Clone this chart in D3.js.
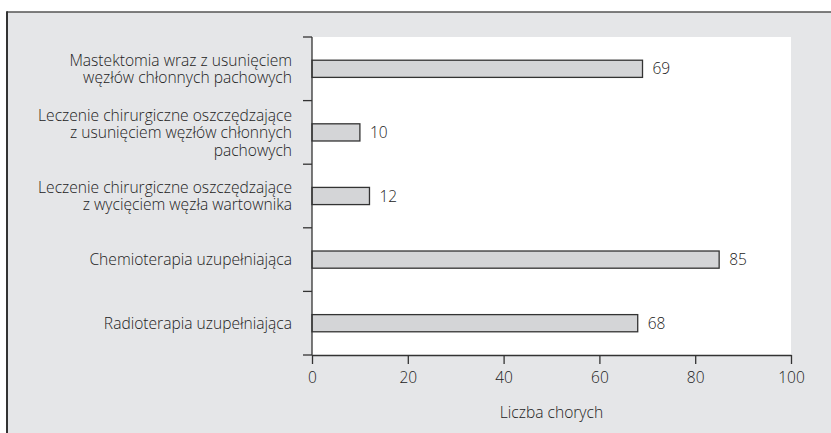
<!DOCTYPE html>
<html>
<head>
<meta charset="utf-8">
<script src="https://cdn.jsdelivr.net/npm/d3@7"></script>
<style>
  body { margin: 0; background: #fff; }
  text { font-family: "Open Sans", sans-serif; font-weight: 300; fill: #222; }
</style>
</head>
<body>
<div id="chart"></div>
<script>
var categories = [
    'Mastektomia wraz z usunięciem\nwęzłów chłonnych pachowych',
    'Leczenie chirurgiczne oszczędzające\nz usunięciem węzłów chłonnych\npachowych',
    'Leczenie chirurgiczne oszczędzające\nz wycięciem węzła wartownika',
    'Chemioterapia uzupełniająca',
    'Radioterapia uzupełniająca'
];
var values = [69, 10, 12, 85, 68];
var xTicks = [0, 20, 40, 60, 80, 100];
var xLabel = 'Liczba chorych';

var width = 831,
    height = 433,
    plotLeft = 312,
    plotRight = 791,
    plotTop = 37,
    plotBottom = 355;

var svg = d3.select('#chart').append('svg')
    .attr('width', width)
    .attr('height', height);

// panel background + frame
svg.append('rect')
    .attr('x', 7).attr('y', 12)
    .attr('width', width - 7).attr('height', height - 12)
    .attr('fill', '#e5e6e8');
svg.append('line')
    .attr('x1', 7).attr('x2', width).attr('y1', 12).attr('y2', 12)
    .attr('stroke', '#555').attr('stroke-width', 1.5);
svg.append('line')
    .attr('x1', 7).attr('x2', 7).attr('y1', 11.3).attr('y2', height)
    .attr('stroke', '#333').attr('stroke-width', 2);

var x = d3.scaleLinear().domain([0, 100]).range([plotLeft, plotRight]);
var y = d3.scaleBand().domain(categories).range([plotTop, plotBottom])
    .paddingInner(0.73).paddingOuter(0.365);

// plot area
svg.append('rect')
    .attr('x', plotLeft).attr('y', plotTop)
    .attr('width', plotRight - plotLeft).attr('height', plotBottom - plotTop)
    .attr('fill', '#fff');

// bars
svg.append('g')
    .selectAll('rect')
    .data(values)
    .enter()
    .append('rect')
    .attr('x', x(0))
    .attr('y', function(d, i) { return y(categories[i]); })
    .attr('width', function(d) { return x(d) - x(0); })
    .attr('height', y.bandwidth())
    .attr('fill', '#d4d5d7')
    .attr('stroke', '#333')
    .attr('stroke-width', 1.3);

// value labels
svg.append('g')
    .selectAll('text')
    .data(values)
    .enter()
    .append('text')
    .attr('x', function(d) { return x(d) + 10; })
    .attr('y', function(d, i) { return y(categories[i]) + y.bandwidth() / 2; })
    .attr('dy', '0.36em')
    .attr('font-size', 15.5)
    .text(function(d) { return d; });

// y axis with ticks at band boundaries
var yAxis = svg.append('g');
yAxis.append('line')
    .attr('x1', plotLeft).attr('x2', plotLeft).attr('y1', plotTop).attr('y2', plotBottom)
    .attr('stroke', '#333').attr('stroke-width', 1.3);
yAxis.selectAll('line.tick')
    .data(d3.range(categories.length + 1))
    .enter()
    .append('line')
    .attr('class', 'tick')
    .attr('x1', plotLeft - 9).attr('x2', plotLeft)
    .attr('y1', function(i) { return plotTop + i * y.step(); })
    .attr('y2', function(i) { return plotTop + i * y.step(); })
    .attr('stroke', '#333').attr('stroke-width', 1.3);

// category labels
var lineHeight = 17.5;
yAxis.selectAll('text')
    .data(categories)
    .enter()
    .append('text')
    .attr('text-anchor', 'end')
    .attr('font-size', 15.6)
    .each(function(d) {
        var lines = d.split('\n');
        var cy = y(d) + y.bandwidth() / 2;
        var t = d3.select(this);
        lines.forEach(function(l, j) {
            t.append('tspan')
                .attr('x', 292)
                .attr('y', cy + (j - (lines.length - 1) / 2) * lineHeight)
                .attr('dy', '0.36em')
                .text(l);
        });
    });

// x axis
var xAxis = svg.append('g')
    .attr('transform', 'translate(0,' + plotBottom + ')')
    .call(d3.axisBottom(x).tickValues(xTicks).tickSize(9).tickPadding(8).tickSizeOuter(0));
xAxis.select('.domain').attr('stroke', '#333').attr('stroke-width', 1.3);
xAxis.selectAll('.tick line').attr('stroke', '#333').attr('stroke-width', 1.3);
xAxis.selectAll('.tick text')
    .attr('font-family', '"Open Sans", sans-serif')
    .attr('font-size', 15.5)
    .attr('fill', '#222');

svg.append('text')
    .attr('x', (plotLeft + plotRight) / 2)
    .attr('y', 412)
    .attr('dy', '0.36em')
    .attr('text-anchor', 'middle')
    .attr('font-size', 15.6)
    .text(xLabel);
</script>
</body>
</html>
